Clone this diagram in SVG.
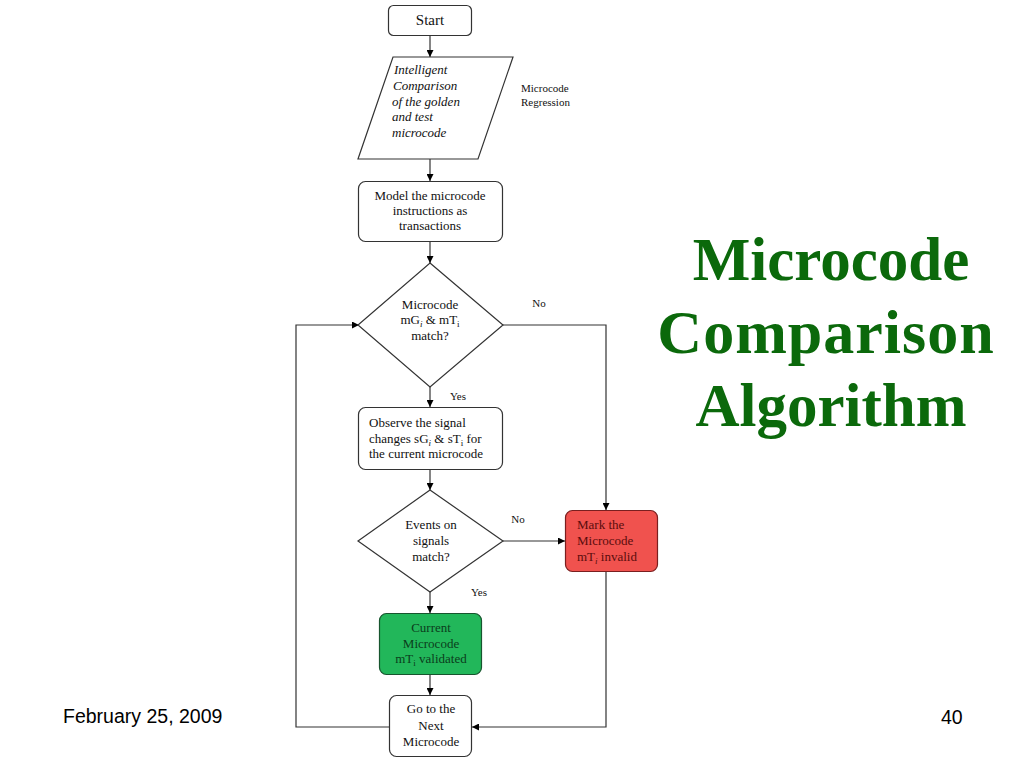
<svg xmlns="http://www.w3.org/2000/svg" width="1024" height="768" viewBox="0 0 1024 768">
<defs>
<marker id="ah" viewBox="0 0 10 10" refX="10" refY="5" markerWidth="7" markerHeight="7" markerUnits="userSpaceOnUse" orient="auto">
<path d="M0,0 L10,5 L0,10 z" fill="#000"/>
</marker>
<style>
.box{fill:#fff;stroke:#333;stroke-width:1.2}
.t{font-family:"Liberation Serif","Times New Roman",serif;font-size:13px;fill:#111}
.c{text-anchor:middle}
.i{font-style:italic}
.ln{fill:none;stroke:#333;stroke-width:1.2}
.ar{fill:none;stroke:#333;stroke-width:1.2;marker-end:url(#ah)}
.lbl{font-family:"Liberation Serif","Times New Roman",serif;font-size:11px;fill:#111}
.sub{font-size:9px}
</style>
</defs>
<rect width="1024" height="768" fill="#fff"/>

<g id="connectors">
<line class="ar" x1="430" y1="36" x2="430" y2="57"/>
<line class="ar" x1="430" y1="159" x2="430" y2="181"/>
<line class="ar" x1="430" y1="242" x2="430" y2="263"/>
<line class="ar" x1="430" y1="387" x2="430" y2="407"/>
<line class="ar" x1="430" y1="470" x2="430" y2="490"/>
<line class="ar" x1="430" y1="592" x2="430" y2="613"/>
<line class="ar" x1="430" y1="675" x2="430" y2="695"/>
<polyline class="ar" points="503,325 606,325 606,510"/>
<line class="ar" x1="503" y1="541" x2="565" y2="541"/>
<polyline class="ar" points="606,572 606,727 472,727"/>
<polyline class="ar" points="389,727 296,727 296,325 359,325"/>
<text class="lbl c" x="539" y="307">No</text>
<text class="lbl c" x="458" y="400">Yes</text>
<text class="lbl c" x="518" y="523">No</text>
<text class="lbl c" x="479" y="596">Yes</text>
</g>

<g id="start">
<rect class="box" x="388.5" y="5.5" width="83" height="30" rx="5"/>
<text class="t c" x="430" y="25" style="font-size:15px">Start</text>
</g>

<g id="compare">
<polygon class="box" points="393,57 513,57 478,159 358,159"/>
<text class="t i" x="394" y="74">Intelligent</text>
<text class="t i" x="393" y="90">Comparison</text>
<text class="t i" x="392" y="106">of the golden</text>
<text class="t i" x="392" y="121">and test</text>
<text class="t i" x="392" y="137">microcode</text>
</g>

<g id="regression-note">
<text class="lbl" x="521" y="92">Microcode</text>
<text class="lbl" x="521" y="106">Regression</text>
</g>

<g id="model">
<rect class="box" x="358.5" y="181.5" width="144" height="60" rx="7"/>
<text class="t c" x="430" y="200">Model the microcode</text>
<text class="t c" x="430" y="215">instructions as</text>
<text class="t c" x="430" y="230">transactions</text>
</g>

<g id="decision1">
<polygon class="box" points="430,263 503,325 430,387 358,325"/>
<text class="t c" x="430" y="309">Microcode</text>
<text class="t c" x="430" y="324">mG<tspan class="sub i" dy="3">i</tspan><tspan dy="-3"> &amp; mT</tspan><tspan class="sub" dy="3">i</tspan></text>
<text class="t c" x="430" y="340">match?</text>
</g>

<g id="observe">
<rect class="box" x="358.5" y="407.5" width="144" height="62" rx="7"/>
<text class="t" x="369" y="427">Observe the signal</text>
<text class="t" x="369" y="443">changes sG<tspan class="sub i" dy="3">i</tspan><tspan dy="-3"> &amp; sT</tspan><tspan class="sub" dy="3">i</tspan><tspan dy="-3"> for</tspan></text>
<text class="t" x="369" y="458">the current microcode</text>
</g>

<g id="decision2">
<polygon class="box" points="430,490 503,541 430,592 358,541"/>
<text class="t c" x="431" y="529">Events on</text>
<text class="t c" x="431" y="545">signals</text>
<text class="t c" x="431" y="561">match?</text>
</g>

<g id="invalid">
<rect x="565.5" y="510.5" width="92" height="61" rx="7" fill="#f0524e" stroke="#7a1f1f" stroke-width="1.2"/>
<text class="t" x="577" y="529" style="fill:#5a0d0d">Mark the</text>
<text class="t" x="577" y="545" style="fill:#5a0d0d">Microcode</text>
<text class="t" x="577" y="561" style="fill:#5a0d0d">mT<tspan class="sub i" dy="3">i</tspan><tspan dy="-3"> invalid</tspan></text>
</g>

<g id="validated">
<rect x="379.5" y="613.5" width="102" height="61" rx="7" fill="#22b75a" stroke="#17552e" stroke-width="1.2"/>
<text class="t c" x="431" y="632" style="fill:#0b3d1c">Current</text>
<text class="t c" x="431" y="648" style="fill:#0b3d1c">Microcode</text>
<text class="t c" x="431" y="663" style="fill:#0b3d1c">mT<tspan class="sub" dy="3">i</tspan><tspan dy="-3"> validated</tspan></text>
</g>

<g id="next">
<rect class="box" x="389.5" y="695.5" width="82" height="61" rx="7"/>
<text class="t c" x="431" y="713">Go to the</text>
<text class="t c" x="431" y="730">Next</text>
<text class="t c" x="431" y="746">Microcode</text>
</g>

<g id="title" font-family="'Liberation Serif','Times New Roman',serif" font-weight="bold" font-size="61" fill="#0b690b" text-anchor="middle">
<text x="831" y="280">Microcode</text>
<text x="826" y="353" font-size="62" letter-spacing="1">Comparison</text>
<text x="831" y="426">Algorithm</text>
</g>

<g id="footer" font-family="'Liberation Sans',Arial,sans-serif" font-size="19.5" fill="#000">
<text x="63" y="723">February 25, 2009</text>
<text x="941" y="724">40</text>
</g>
</svg>
